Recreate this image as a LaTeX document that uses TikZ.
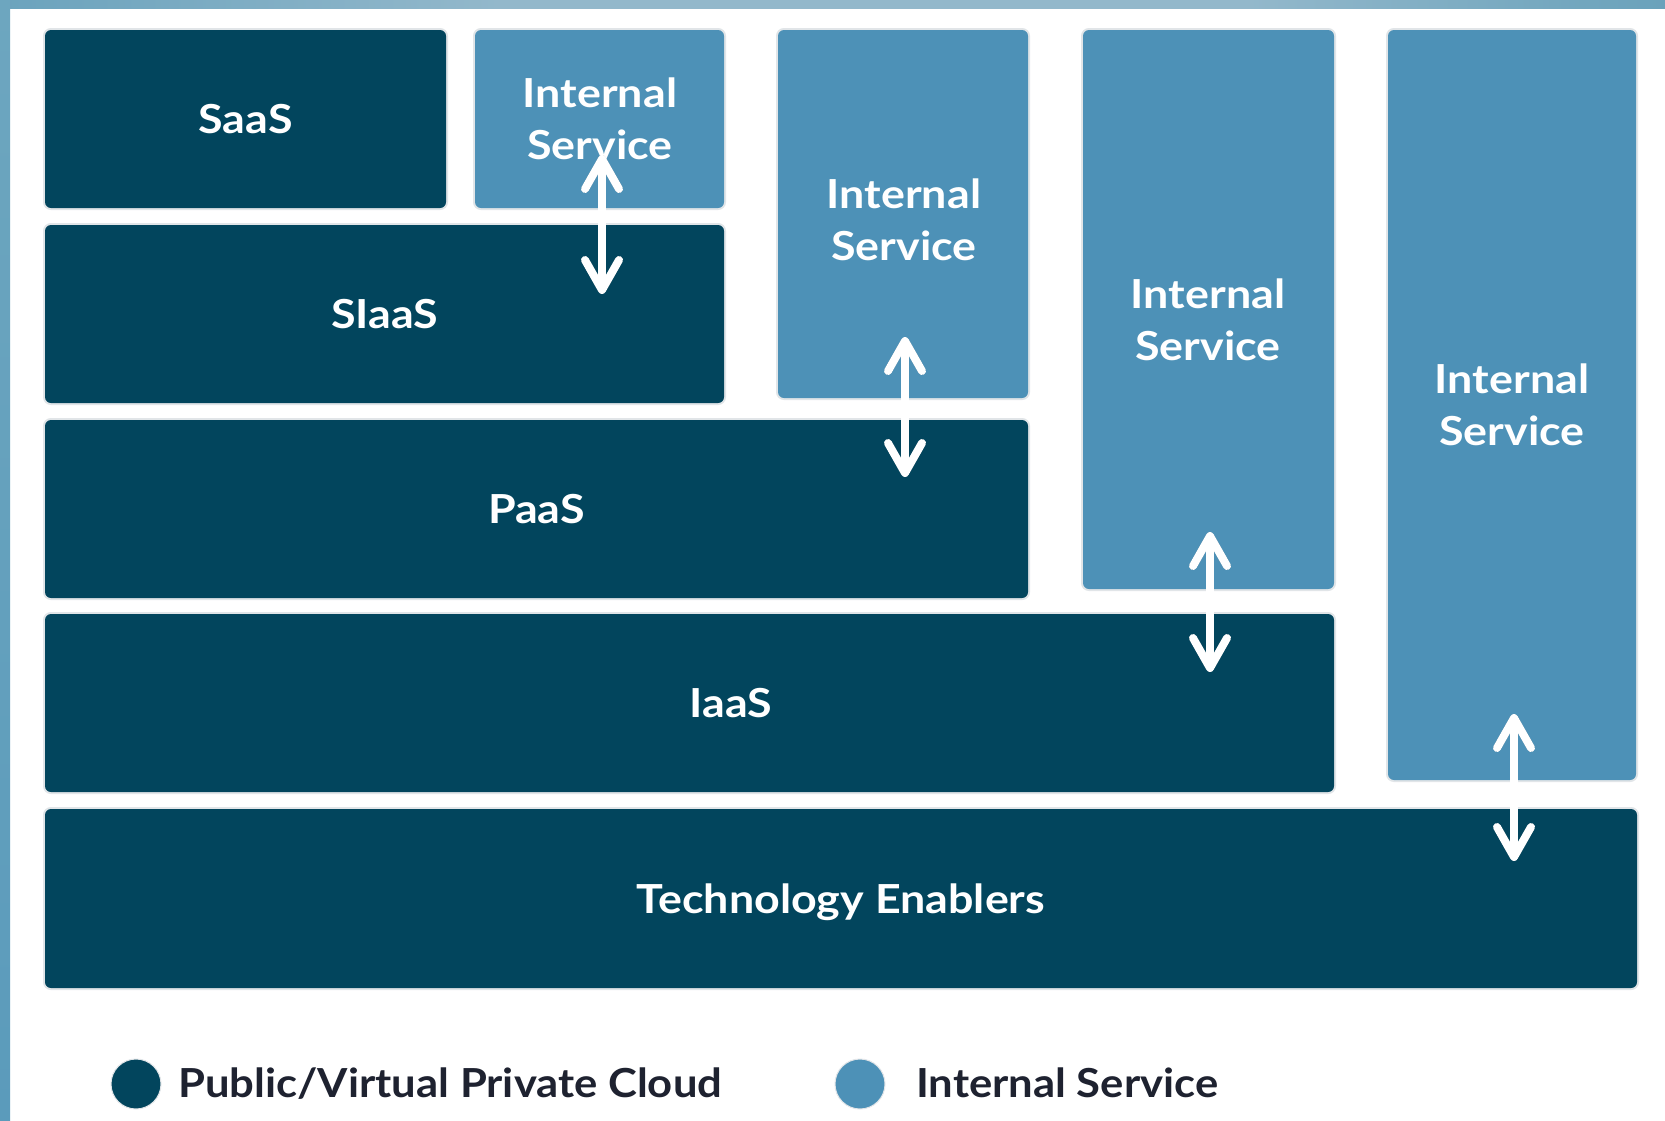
\documentclass[tikz,border=0pt]{standalone}
\usepackage{fontspec}
\usepackage{graphicx}
\setmainfont{Lato}
\usetikzlibrary{arrows.meta}
\definecolor{dark}{HTML}{02455D}
\definecolor{light}{HTML}{4D91B7}
\definecolor{halo}{HTML}{E1E5E8}
\definecolor{tbA}{HTML}{6BA3BD}
\definecolor{tbB}{HTML}{93B8CB}
\definecolor{tbC}{HTML}{6AA2BB}
\definecolor{lbA}{HTML}{6DA6BF}
\definecolor{lbB}{HTML}{5B9BBB}
\definecolor{legtext}{HTML}{1E2230}
\newcommand\hs[1]{\scalebox{1.12}[1]{#1}}
\newcommand\hl[1]{\scalebox{1.09}[1]{#1}}
\pgfdeclarehorizontalshading{topbar}{100bp}{color(0bp)=(tbA); color(25bp)=(tbA); color(40bp)=(tbB); color(62.5bp)=(tbB); color(75bp)=(tbC); color(100bp)=(tbC)}
\begin{document}
\begin{tikzpicture}[x=1pt,y=-1pt,
  box/.style={rectangle, rounded corners=6pt, inner sep=0pt, outer sep=0pt,
    preaction={draw=halo, line width=4pt}},
  darkbox/.style={box, fill=dark},
  lightbox/.style={box, fill=light},
  boxfont/.style={font=\fontsize{40pt}{48pt}\selectfont\bfseries, text=white, text height=29pt, text depth=0pt},
  lbl/.style={boxfont, inner sep=0pt, anchor=base},
  legfont/.style={font=\fontsize{40pt}{48pt}\selectfont\bfseries, text=legtext, inner sep=0pt},
  dot/.style={circle, minimum size=50pt, inner sep=0pt, draw=halo, line width=1pt},
  dbl/.style={draw=white, line width=8pt, {Straight Barb[length=30pt, width=34pt, line width=8pt, round]}-{Straight Barb[length=30pt, width=34pt, line width=8pt, round]}},
  dblshadow/.style={draw=black, opacity=0.25, line width=8pt, {Straight Barb[length=30pt, width=34pt, line width=8pt, round]}-{Straight Barb[length=30pt, width=34pt, line width=8pt, round]}}
]
\useasboundingbox (0,0) rectangle (1665,1120);
\fill[white] (0,0) rectangle (1665,1120);
% frame bars
\shade[shading=topbar] (0,0) rectangle (1665,8);
\shade[top color=lbA, bottom color=lbB] (0,0) rectangle (10,1120);

% boxes
\node[darkbox, boxfont, minimum width=401pt, minimum height=178pt] (saas) at (245.5,119) {\hs{SaaS}};
\node[lightbox, minimum width=249pt, minimum height=178pt] (int1) at (599.5,119) {};
\node[darkbox, boxfont, minimum width=679pt, minimum height=178pt] (siaas) at (384.5,314) {\hs{SIaaS}};
\node[lightbox, minimum width=250pt, minimum height=368pt] (int2) at (903,214) {};
\node[darkbox, boxfont, minimum width=983pt, minimum height=178pt] (paas) at (536.5,509) {\hs{PaaS}};
\node[lightbox, minimum width=251pt, minimum height=559pt] (int3) at (1208.5,309.5) {};
\node[darkbox, minimum width=1289pt, minimum height=178pt] (iaas) at (689.5,703) {};
\node[lightbox, minimum width=248pt, minimum height=750pt] (int4) at (1512,405) {};
\node[darkbox, boxfont, minimum width=1592pt, minimum height=179pt] (tech) at (841,898.5) {\hs{Technology Enablers}};

% labels
\node[lbl] (iaaslbl) at (731,717.5) {\hs{IaaS}};
\node[lbl] (int1a) at (600,107) {\hs{Internal}};
\node[lbl] (int1b) at (600,159.5) {\hs{Service}};
\node[lbl] (int2a) at (904,208.5) {\hs{Internal}};
\node[lbl] (int2b) at (904,260.5) {\hs{Service}};
\node[lbl] (int3a) at (1208,308.5) {\hs{Internal}};
\node[lbl] (int3b) at (1208,360.5) {\hs{Service}};
\node[lbl] (int4a) at (1512,393.5) {\hs{Internal}};
\node[lbl] (int4b) at (1512,445.5) {\hs{Service}};

% arrow end points
\coordinate (a1t) at (602,155);
\coordinate (a1b) at (602,294);
\coordinate (a2t) at (905,337);
\coordinate (a2b) at (905,477);
\coordinate (a3t) at (1210,532);
\coordinate (a3b) at (1210,672);
\coordinate (a4t) at (1514,714);
\coordinate (a4b) at (1514,861);

% arrow shadows
\begin{scope}[shift={(3,4)}]
\draw[dblshadow] (a1t) -- (a1b);
\draw[dblshadow] (a2t) -- (a2b);
\draw[dblshadow] (a3t) -- (a3b);
\draw[dblshadow] (a4t) -- (a4b);
\end{scope}
% arrows
\draw[dbl] (a1t) -- (a1b);
\draw[dbl] (a2t) -- (a2b);
\draw[dbl] (a3t) -- (a3b);
\draw[dbl] (a4t) -- (a4b);

% legend
\node[dot, fill=dark] (ldark) at (136,1084) {};
\node[legfont, anchor=base west] (ldarkt) at (178,1097) {\hl{Public/Virtual Private Cloud}};
\node[dot, fill=light] (llight) at (860,1084) {};
\node[legfont, anchor=base west] (llightt) at (916,1097) {\hl{Internal Service}};
\end{tikzpicture}
\end{document}
